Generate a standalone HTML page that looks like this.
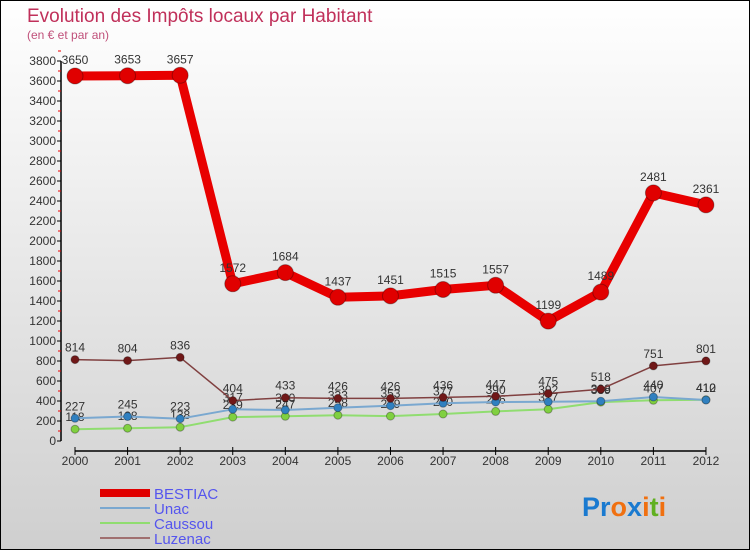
<!DOCTYPE html>
<html><head><meta charset="utf-8"><style>
body{margin:0;width:750px;height:550px;overflow:hidden;font-family:"Liberation Sans",sans-serif}
</style></head><body>
<svg id="c" width="750" height="550" xmlns="http://www.w3.org/2000/svg">
<defs><linearGradient id="bg" x1="0" y1="0" x2="0" y2="1"><stop offset="0" stop-color="#ffffff"/><stop offset="1" stop-color="#cfcfcf"/></linearGradient></defs>
<rect x="0.5" y="0.5" width="749" height="549" fill="url(#bg)" stroke="#000"/>
<text x="27" y="22" font-size="19" fill="#c0305a">Evolution des Impôts locaux par Habitant</text>
<text x="27" y="39" font-size="12" fill="#c0507a">(en € et par an)</text>
<g id="axes"></g><g id="series"></g>
<g font-size="15" fill="#5555ee">
<rect x="100" y="489" width="50" height="8" fill="#e00000"/>
<text x="154" y="499">BESTIAC</text>
<line x1="100" y1="508" x2="150" y2="508" stroke="#7aa8d0" stroke-width="2"/>
<text x="154" y="514">Unac</text>
<line x1="100" y1="523" x2="150" y2="523" stroke="#90dd70" stroke-width="2"/>
<text x="154" y="529">Caussou</text>
<line x1="100" y1="538" x2="150" y2="538" stroke="#a07070" stroke-width="2"/>
<text x="154" y="544">Luzenac</text>
</g>
<text x="582" y="516" font-size="27" font-weight="bold"><tspan fill="#1a7ad0">Pr</tspan><tspan fill="#f07010">o</tspan><tspan fill="#1a7ad0">x</tspan><tspan fill="#f07010">i</tspan><tspan fill="#60b020">t</tspan><tspan fill="#f07010">i</tspan></text>
</svg>
<script>
const years=[2000,2001,2002,2003,2004,2005,2006,2007,2008,2009,2010,2011,2012];
const bestiac=[3650,3653,3657,1572,1684,1437,1451,1515,1557,1199,1489,2481,2361];
const unac=[227,245,223,317,310,333,353,377,390,392,398,440,410];
const caussou=[118,128,138,239,247,258,249,270,296,317,389,407,412];
const luzenac=[814,804,836,404,433,426,426,436,447,475,518,751,801];
const yTicks=[0,200,400,600,800,1000,1200,1400,1600,1800,2000,2200,2400,2600,2800,3000,3200,3400,3600,3800];
const NS="http://www.w3.org/2000/svg";
const xS=i=>75+i*52.58;
const yS=v=>441-v*0.1;
function mk(t,a,p){const e=document.createElementNS(NS,t);for(const k in a)e.setAttribute(k,a[k]);p.appendChild(e);return e;}
const ax=document.getElementById('axes');
let l=mk('line',{x1:61,y1:yS(3800),x2:61,y2:yS(0),stroke:'#000','stroke-width':1.5},ax);


yTicks.forEach(v=>{
 const t=mk('line',{x1:57,y1:yS(v),x2:61,y2:yS(v),stroke:'#000'},ax);
 
 
 const m=mk('line',{x1:58,y1:yS(v+100),x2:61,y2:yS(v+100),stroke:'#e00'},ax);
 
 
 const tx=mk('text',{x:56,y:yS(v)+4,'font-size':12,'text-anchor':'end',fill:'#333'},ax);tx.textContent=v;
 
 
});
let xa=mk('line',{x1:xS(0),y1:451,x2:xS(12),y2:451,stroke:'#000','stroke-width':1.5},ax);


years.forEach((y,i)=>{
 const t=mk('line',{x1:xS(i),y1:447,x2:xS(i),y2:455,stroke:'#000'},ax);
 
 
 const tx=mk('text',{x:xS(i),y:465,'font-size':12,'text-anchor':'middle',fill:'#333'},ax);tx.textContent=y;
 
 
});
const sg=document.getElementById('series');
function series(name,data,color,w,r,dot){
 const g=mk('g',{},sg);
 
 
 const pts=data.map((v,i)=>xS(i)+','+yS(v)).join(' ');
 const p=mk('polyline',{points:pts,fill:'none',stroke:color,'stroke-width':w,'stroke-linejoin':'round'},g);
 
 
 data.forEach((v,i)=>{
  const c=mk('circle',{cx:xS(i),cy:yS(v),r:r,fill:dot,stroke:'rgba(0,0,0,0.3)'},g);
  
  
  const t=mk('text',{x:xS(i),y:yS(v)-r-4,'font-size':12,'text-anchor':'middle',fill:'#333'},g);t.textContent=v;
  
  
 });
}
series('caussou',caussou,'#90dd70',2,4,'#80d040');
series('unac',unac,'#7aa8d0',2,4,'#3080c0');
series('luzenac',luzenac,'#804040',1.5,4,'#701818');
series('bestiac',bestiac,'#e80000',9,8,'#e00000');
</script>
</body></html>
